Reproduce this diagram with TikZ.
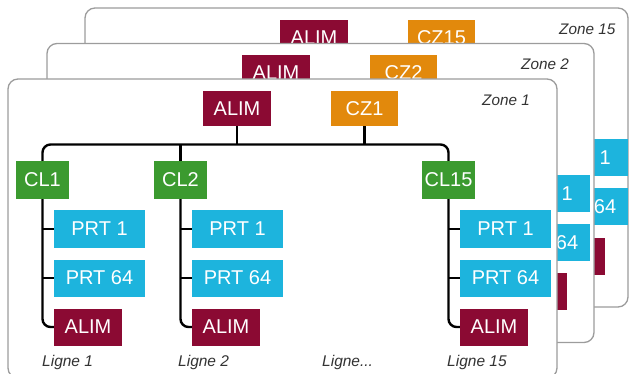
\documentclass[tikz,border=0pt]{standalone}
\usepackage{fontspec}
\setmainfont{Liberation Sans}
\definecolor{alimred}{HTML}{8B0A33}
\definecolor{czorange}{HTML}{E2890C}
\definecolor{clgreen}{HTML}{3B9A2F}
\definecolor{prtcyan}{HTML}{1DB4DD}
\definecolor{panelgray}{HTML}{9C9C9C}
\definecolor{labelgray}{HTML}{333333}
\tikzset{
  panel/.style={draw=panelgray, line width=1.3pt, fill=white, rounded corners=10pt},
  box/.style={inner sep=0pt, text=white, font=\fontsize{20}{24}\selectfont},
  alimbox/.style={box, fill=alimred, minimum width=68pt},
  czbox/.style={box, fill=czorange, minimum width=67pt, minimum height=35pt},
  clbox/.style={box, fill=clgreen, minimum width=53pt, minimum height=38pt},
  prtbox/.style={box, fill=prtcyan, minimum width=91pt, minimum height=37pt},
  wire/.style={line width=2.4pt, black, rounded corners=8pt},
  zonelabel/.style={anchor=west, inner sep=0pt, text=labelgray, font=\fontsize{15.3}{18}\selectfont\itshape},
  lignelabel/.style={anchor=west, inner sep=0pt, text=labelgray, font=\fontsize{15.5}{18}\selectfont\itshape},
}
% Boxes of one line: PRT 1, PRT 64 and ALIM
% #1 prefix, #2 column id, #3 x of the CL box
\newcommand{\lineboxes}[3]{%
  \node[prtbox] (#1#2prta) at (#3+57,229) {PRT 1};
  \node[prtbox] (#1#2prtb) at (#3+57,278) {PRT 64};
  \node[alimbox, minimum height=37pt] (#1#2alim) at (#3+45.5,327) {ALIM};
}
% Wiring of one line, hanging from its CL box
\newcommand{\linewires}[2]{%
  \draw[wire] (#1#2.south) |- (#1#2alim.west);
  \draw[wire] (#1#2prta.west -| #1#2.south) -- (#1#2prta.west);
  \draw[wire] (#1#2prtb.west -| #1#2.south) -- (#1#2prtb.west);
}
% Card outline with its zone name and top boxes
% #1 prefix, #2 zone name, #3 CZ label, #4 card width
\newcommand{\cardhead}[4]{%
  \path[panel] (8,79) rectangle ++(#4,299);
  \node[zonelabel] (#1zone) at (482,100) {#2};
  \node[alimbox, minimum height=35pt] (#1alim) at (237,108.5) {ALIM};
  \node[czbox] (#1cz) at (364.5,108.5) {#3};
}
\begin{document}
\begin{tikzpicture}[x=1pt, y=-1pt]
  \useasboundingbox (0,0) rectangle (629,374);
  % back cards: only their uncovered parts show
  \begin{scope}[shift={(77,-71)}]
    \cardhead{c}{Zone 15}{CZ15}{543}
    \lineboxes{c}{clc}{448.5}
  \end{scope}
  \begin{scope}[shift={(39,-35.5)}]
    \cardhead{b}{Zone 2}{CZ2}{547}
    \lineboxes{b}{clc}{448.5}
  \end{scope}
  % front card
  \cardhead{a}{Zone 1}{CZ1}{549}
  \coordinate (abus) at (237,144.5);
  \node[clbox] (acla) at (42.5,180) {CL1};
  \node[clbox] (aclb) at (180.5,180) {CL2};
  \node[clbox] (aclc) at (448.5,180) {CL15};
  \draw[wire] (acla.north) |- (abus) -| (aclc.north);
  \draw[wire] (aalim.south) -- (abus);
  \draw[wire] (acz.south) -- (acz.south |- abus);
  \draw[wire] (aclb.north) -- (aclb.north |- abus);
  \lineboxes{a}{cla}{42.5}
  \lineboxes{a}{clb}{180.5}
  \lineboxes{a}{clc}{448.5}
  \linewires{a}{cla}
  \linewires{a}{clb}
  \linewires{a}{clc}
  \node[lignelabel] (alignea) at (42,362) {Ligne 1};
  \node[lignelabel] (aligneb) at (178,362) {Ligne 2};
  \node[lignelabel] (alignex) at (322,362) {Ligne...};
  \node[lignelabel] (alignec) at (447,362) {Ligne 15};
\end{tikzpicture}
\end{document}
